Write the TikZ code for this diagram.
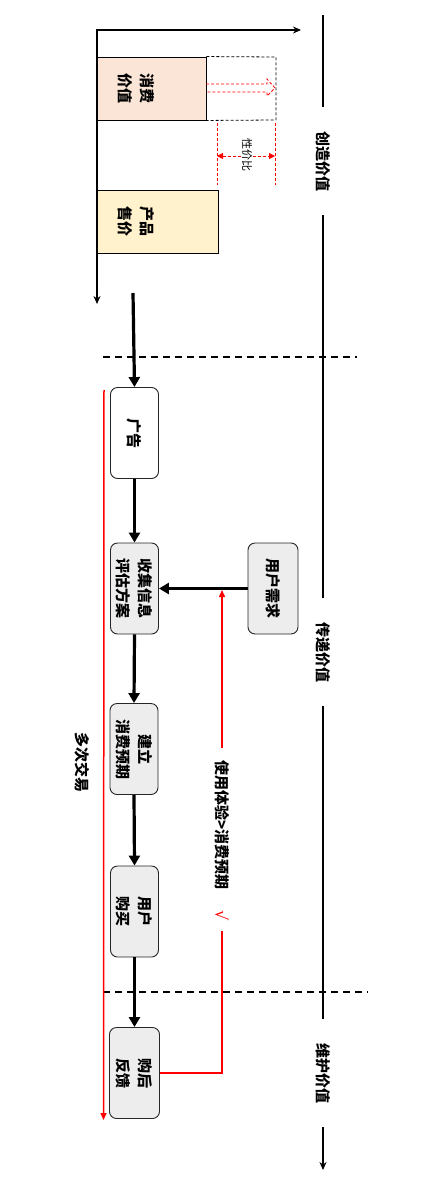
\documentclass[tikz,border=0pt]{standalone}
\usepackage{fontspec}
\setmainfont{Noto Sans CJK SC}
\newfontfamily\dejavu{DejaVu Sans}
\usetikzlibrary{arrows.meta}
\definecolor{peach}{HTML}{FBE5D6}
\definecolor{cream}{HTML}{FFF2CC}
\definecolor{boxgray}{HTML}{EDEDED}
\begin{document}
\begin{tikzpicture}[x=1pt,y=-1pt,
  stepbox/.style={draw=black!85, line width=0.9pt, rounded corners=7pt, fill=boxgray, rotate=-90,
    minimum width=91pt, minimum height=48pt, inner sep=0pt, align=center,
    font=\fontsize{15}{22}\selectfont\bfseries},
  bar/.style={draw=black, line width=0.9pt, inner sep=0pt},
  bartext/.style={rotate=-90, align=center, inner sep=0pt, font=\fontsize{15}{22}\selectfont\bfseries},
  flow/.style={line width=3.2pt, -{Triangle[length=10pt,width=11pt]}},
  vtext/.style={rotate=-90, inner sep=0pt, font=\fontsize{15}{18}\selectfont\bfseries},
  phase/.style={vtext, fill=white, inner xsep=24pt, inner ysep=3pt},
  sep/.style={line width=1.8pt, dash pattern=on 7pt off 5pt},
  redline/.style={red, line width=1.5pt},
  axis/.style={line width=1.5pt},
  smallhead/.style={-{Stealth[length=8pt,width=7pt]}}
]
\useasboundingbox[fill=white] (0,0) rectangle (431,1186);

% ---------- top chart ----------
\coordinate (axR) at (301,30);
\coordinate (axO) at (97,30);
\coordinate (axB) at (97,304);
\draw[axis, {Stealth[length=8pt,width=7pt]}-{Stealth[length=8pt,width=7pt]}] (axR) -- (axO) -- (axB);

\node[bar, fill=peach, minimum width=109pt, minimum height=63pt] (cv) at (151.5,88.5) {};
\node[bartext] (cvt) at (136,88) {消费\\价值};
\node[bar, fill=cream, minimum width=121pt, minimum height=63pt] (pp) at (157.5,221.5) {};
\node[bartext] (ppt) at (136,221) {产品\\售价};

% dashed extension box
\coordinate (dbTR) at (276,57);
\coordinate (dbBR) at (276,120);
\draw[line width=0.8pt, dash pattern=on 3pt off 2pt] (cv.north east) -- (dbTR) -- (dbBR) -- (cv.south east);

% red hollow dashed arrow
\draw[red, line width=0.8pt, dash pattern=on 3pt off 2pt]
  (206,84) -- (267,84) -- (267,79) -- (275,88) -- (267,96) -- (267,92) -- (206,92);

% price-performance dimension
\coordinate (pl1) at (217,123);
\coordinate (pl2) at (217,185);
\coordinate (pr1) at (275,123);
\coordinate (pr2) at (275,185);
\draw[red, line width=0.8pt, dash pattern=on 3pt off 2pt] (pl1) -- (pl2);
\draw[red, line width=0.8pt, dash pattern=on 3pt off 2pt] (pr1) -- (pr2);
\coordinate (pa1) at (217,156);
\coordinate (pa2) at (275,156);
\draw[red, line width=0.8pt, dash pattern=on 3pt off 2pt,
  {Triangle[length=6pt,width=6pt]}-{Triangle[length=6pt,width=6pt]}] (pa1) -- (pa2);
\node[rotate=-90, fill=white, inner sep=1pt, font=\fontsize{11}{13}\selectfont] (xjb) at (247,155) {性价比};

% ---------- separators ----------
\coordinate (d1a) at (103,357);
\coordinate (d1b) at (357,357);
\draw[sep] (d1a) -- (d1b);
\coordinate (d2a) at (103,992);
\coordinate (d2b) at (368,992);
\draw[sep] (d2a) -- (d2b);

% ---------- left red line ----------
\coordinate (rl0) at (104,390);
\coordinate (rl1) at (103.5,1120);
\draw[redline, -{Triangle[length=7pt,width=6pt]}] (rl0) -- (rl1);
\node[vtext] (multi) at (82,762) {多次交易};

% ---------- process boxes ----------
\node[stepbox, fill=white] (ad) at (134.5,433) {广告};
\node[stepbox] (collect) at (134.5,588.5) {收集信息\\评估方案};
\node[stepbox, minimum height=50pt] (need) at (273,588.5) {用户需求};
\node[stepbox] (expect) at (134,749) {建立\\消费预期};
\node[stepbox] (buy) at (134.5,911.5) {用户\\购买};
\node[stepbox, minimum height=50pt] (fb) at (134.5,1073) {购后\\反馈};

\coordinate (start) at (133,293);
\draw[flow] (start) -- (ad.west);
\draw[flow] (ad.east) -- (collect.west);
\draw[flow] (collect.east) -- (expect.west);
\draw[flow] (expect.east) -- (buy.west);
\draw[flow] (buy.east) -- (fb.west);
\draw[flow] (need.south) -- (collect.north);

% ---------- red feedback loop ----------
\coordinate (redtop) at (222,590);
\draw[redline, -{Triangle[length=7pt,width=6pt]}] (fb.north) -| (redtop);
\node[vtext, fill=white, inner xsep=12pt, inner ysep=3pt] (exp) at (222,825) {使用体验>消费预期};
\node[rotate=-90, fill=white, inner xsep=10pt, inner ysep=3pt, text=red, font=\dejavu\fontsize{16}{18}\selectfont] (chk) at (222,916) {√};

% ---------- phase timeline ----------
\coordinate (tl0) at (323,15);
\coordinate (tl1) at (323,1170);
\draw[axis, smallhead] (tl0) -- (tl1);
\node[phase] (ph1) at (323,161) {创造价值};
\node[phase] (ph2) at (323,652) {传递价值};
\node[phase] (ph3) at (323,1073) {维护价值};
\end{tikzpicture}
\end{document}
